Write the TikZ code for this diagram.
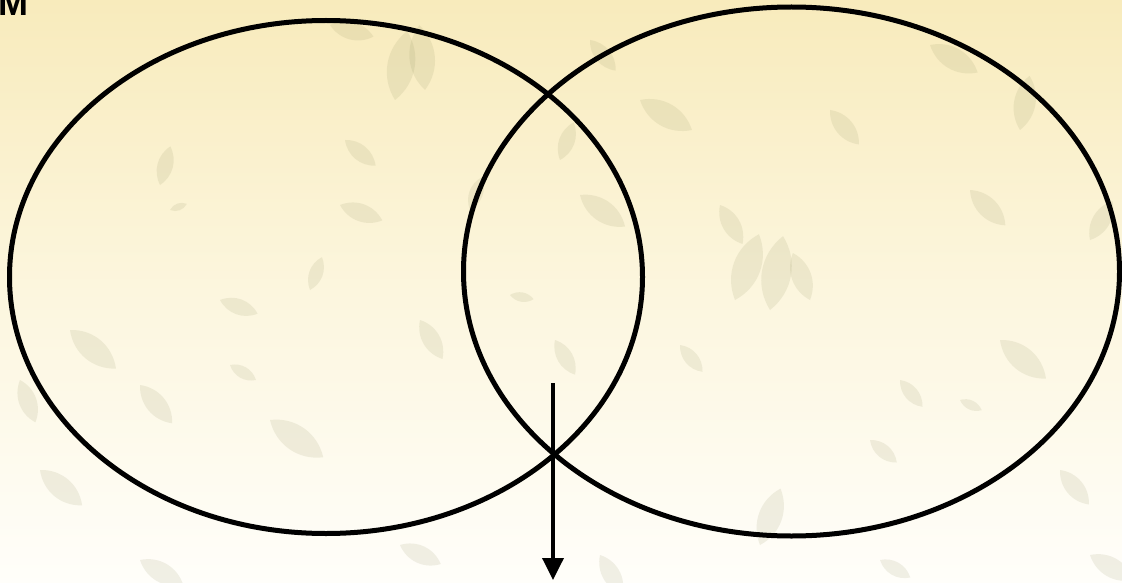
\documentclass[tikz,border=0pt]{standalone}
\usepackage{fontspec}
\setmainfont{Liberation Sans}
\usetikzlibrary{arrows.meta}
\definecolor{bgtop}{RGB}{248,235,188}
\definecolor{bgmid}{RGB}{252,246,222}
\definecolor{bgbot}{RGB}{255,254,250}
\definecolor{leafc}{RGB}{140,140,90}
\tikzset{
  ring/.style={draw=black, line width=5pt},
  arrowline/.style={draw=black, line width=3.6pt, -{Triangle[length=22pt,width=21pt]}},
  leaf/.pic={\fill[leafc, fill opacity=0.13] (0,0) to[bend left=42] (1,0) to[bend left=42] (0,0);},
}
\begin{document}
\begin{tikzpicture}[x=1pt,y=-1pt]
\useasboundingbox (0,0) rectangle (1122,583);
\shade[top color=bgtop, bottom color=bgbot, middle color=bgmid] (0,0) rectangle (1122,583);
% faint leaves
\foreach \x/\y/\r/\s in {
 395/100/80/70, 425/90/95/65, 345/140/-40/40, 160/185/75/40, 170/210/20/18,
 340/205/-20/45, 580/195/-35/55, 560/160/70/40, 470/210/70/35,
 220/300/-20/40, 310/290/70/35, 70/330/-40/60, 230/365/-30/30, 140/385/-50/50,
 270/420/-35/65, 510/295/-10/24, 555/340/-60/40, 420/320/-60/45, 680/345/-50/35,
 735/300/70/70, 770/310/80/75, 810/300/110/50, 970/190/-45/50, 830/110/-50/45,
 640/100/-30/60, 930/45/-30/55, 720/205/-60/45, 1000/340/-40/60, 1090/240/60/45,
 960/400/-25/24, 870/440/-40/35, 1060/470/-50/45, 1090/555/-30/50, 900/380/-50/35,
 140/560/-30/50, 400/545/-25/45, 600/555/-60/45, 760/545/70/60, 880/560/-30/35,
 20/380/-70/45, 40/470/-40/55, 330/25/-15/45, 590/40/-50/40, 1020/130/80/55}
 { \pic[rotate=\r, scale=\s] at (\x,\y) {leaf}; }
\node[font=\bfseries\fontsize{36}{36}\selectfont, anchor=base west, inner sep=0pt] (m) at (-2,16) {M};
\draw[ring] (326,277) ellipse [x radius=316.5, y radius=256.5];
\draw[ring] (791.5,271.5) ellipse [x radius=328, y radius=264.5];
\coordinate (a1) at (553,383);
\coordinate (a2) at (553,580);
\draw[arrowline] (a1) -- (a2);
\end{tikzpicture}
\end{document}
